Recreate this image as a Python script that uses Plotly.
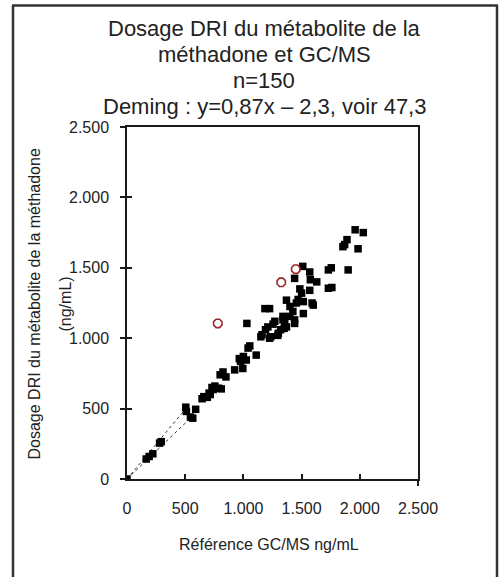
import plotly.graph_objects as go

# ---------------- data ----------------
ref_x = [0, 165, 190, 222, 280, 294,
         505, 510, 545, 565, 590,
         645, 660, 690, 705, 715, 730, 740, 755, 785, 810,
         800, 825, 850, 925, 965, 975, 995, 1000, 1025, 1040, 1055, 1110, 1030,
         1150, 1160, 1190, 1210, 1225, 1235, 1255, 1270, 1295, 1300, 1185, 1225,
         1320, 1340, 1340, 1350, 1355, 1370, 1400, 1425, 1440, 1440,
         1370, 1400, 1455, 1470, 1515, 1515, 1590, 1600, 1485, 1500, 1570, 1575,
         1630, 1440, 1510, 1570,
         1730, 1755, 1900, 1730, 1760, 1855, 1870, 1890, 1960, 2030, 1985]
dri_y = [0, 142, 160, 179, 255, 265,
         510, 480, 440, 432, 495,
         570, 585, 580, 610, 600, 650, 635, 660, 645, 640,
         740, 760, 725, 775, 855, 835, 785, 870, 845, 930, 945, 880, 1105,
         1010, 1025, 1060, 1080, 1000, 1010, 1100, 1120, 1020, 1035, 1210, 1210,
         1060, 1130, 1155, 1070, 1115, 1080, 1155, 1190, 1105, 1130,
         1270, 1225, 1250, 1275, 1260, 1175, 1250, 1235, 1350, 1320, 1340, 1415,
         1400, 1425, 1510, 1470,
         1485, 1500, 1485, 1355, 1360, 1650, 1665, 1700, 1770, 1750, 1635]

outlier_x = [780, 1325, 1450]
outlier_y = [1105, 1397, 1490]

# two short dotted guide lines from the origin
guide1_x = [0, 500]
guide1_y = [0, 495]
guide2_x = [0, 555]
guide2_y = [0, 440]

tick_vals = [0, 500, 1000, 1500, 2000, 2500]
tick_text = ["0", "500", "1.000", "1.500", "2.000", "2.500"]

title_lines = ["Dosage DRI du métabolite de la",
               "méthadone et GC/MS",
               "n=150",
               "Deming : y=0,87x – 2,3, voir 47,3"]
x_title = "Référence GC/MS ng/mL"
y_title_lines = ["Dosage DRI du métabolite de la méthadone", "(ng/mL)"]

# ---------------- layout geometry (pixels) ----------------
W, H = 501, 577
L, R, T, B = 127, 83, 127, 98
PW = W - L - R
PH = H - T - B

def px(xpix):
    return (xpix - L) / PW

def py(ypix):
    return (H - B - ypix) / PH

FONT = "Liberation Sans, Arial, sans-serif"
TXT = "#222222"
AX = "#1a1a1a"

fig = go.Figure()

fig.add_trace(go.Scatter(x=guide1_x, y=guide1_y, mode="lines",
                         line=dict(color="#333333", width=1, dash="dot"),
                         showlegend=False, hoverinfo="skip"))
fig.add_trace(go.Scatter(x=guide2_x, y=guide2_y, mode="lines",
                         line=dict(color="#333333", width=1, dash="dot"),
                         showlegend=False, hoverinfo="skip"))
fig.add_trace(go.Scatter(x=ref_x, y=dri_y, mode="markers",
                         marker=dict(symbol="square", size=7.5, color="black",
                                     line=dict(width=0)),
                         showlegend=False))
fig.add_trace(go.Scatter(x=outlier_x, y=outlier_y, mode="markers",
                         marker=dict(symbol="octagon-open", size=9,
                                     color="#9b2a2a", line=dict(width=1.6)),
                         showlegend=False))
# invisible trace so the overlay axes are drawn
fig.add_trace(go.Scatter(x=[None], y=[None], xaxis="x2", yaxis="y2",
                         mode="markers", showlegend=False, hoverinfo="skip"))

fig.update_layout(
    width=W, height=H, autosize=False,
    margin=dict(l=L, r=R, t=T, b=B, pad=0),
    paper_bgcolor="white", plot_bgcolor="white",
    font=dict(family=FONT, color=TXT),
    showlegend=False,
    xaxis=dict(range=[0, 2500], tickvals=tick_vals, ticktext=tick_text,
               ticks="inside", ticklen=5, tickwidth=1.5, tickcolor=AX,
               showline=True, linecolor=AX, linewidth=1.5, mirror=True,
               showgrid=False, zeroline=False,
               tickfont=dict(size=16, color=TXT), ticklabelstandoff=14),
    yaxis=dict(range=[0, 2500], tickvals=tick_vals, ticktext=tick_text,
               ticks="outside", ticklen=5, tickwidth=1.5, tickcolor=AX,
               showline=True, linecolor=AX, linewidth=1.5, mirror=True,
               showgrid=False, zeroline=False,
               tickfont=dict(size=16, color=TXT), ticklabelstandoff=8),
    xaxis2=dict(range=[0, 2500], overlaying="x", tickvals=[2500],
                ticks="outside", ticklen=6, tickwidth=1.5, tickcolor=AX,
                showticklabels=False, showline=False, showgrid=False,
                zeroline=False, side="bottom"),
    yaxis2=dict(range=[0, 2500], overlaying="y", tickvals=tick_vals[1:5],
                ticks="inside", ticklen=5, tickwidth=1.5, tickcolor=AX,
                showticklabels=False, showline=False, showgrid=False,
                zeroline=False, side="left"),
)

annotations = []
title_centers = [28.5, 55, 80.5, 107]
for line, yc in zip(title_lines, title_centers):
    annotations.append(dict(text=line, x=px(264), y=py(yc), xref="paper", yref="paper",
                            xanchor="center", yanchor="middle", showarrow=False,
                            font=dict(size=22, color=TXT, family=FONT)))
annotations.append(dict(text=x_title, x=px(269), y=py(544), xref="paper", yref="paper",
                        xanchor="center", yanchor="middle", showarrow=False,
                        font=dict(size=16, color=TXT, family=FONT)))
for line, xc in zip(y_title_lines, [33.5, 64.5]):
    annotations.append(dict(text=line, x=px(xc), y=py(304), xref="paper", yref="paper",
                            xanchor="center", yanchor="middle", showarrow=False,
                            textangle=-90,
                            font=dict(size=16, color=TXT, family=FONT)))
fig.update_layout(annotations=annotations)

# outer frame (open at the bottom, beyond the image)
frame = dict(color="#333333", width=2.5)
fig.add_shape(type="line", xref="paper", yref="paper",
              x0=px(12), x1=px(498), y0=py(5.5), y1=py(5.5), line=frame, layer="above")
fig.add_shape(type="line", xref="paper", yref="paper",
              x0=px(13), x1=px(13), y0=py(5.5), y1=py(620), line=frame, layer="above")
fig.add_shape(type="line", xref="paper", yref="paper",
              x0=px(497), x1=px(497), y0=py(5.5), y1=py(620), line=frame, layer="above")

fig.write_html("out.html", config={"displayModeBar": False},
               post_script="document.body.style.margin='0';document.body.style.padding='0';")
